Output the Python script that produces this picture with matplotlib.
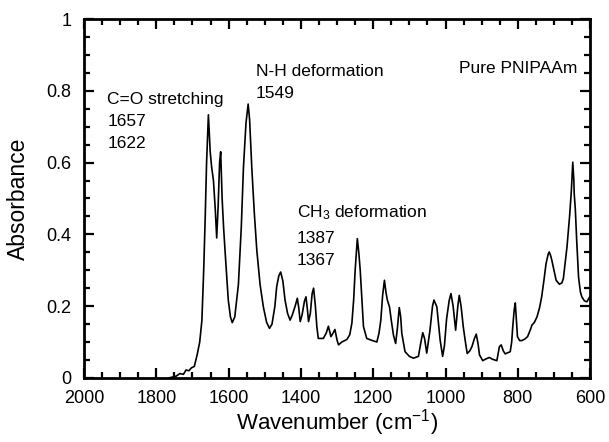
import matplotlib
matplotlib.use("Agg")
import matplotlib.pyplot as plt
from matplotlib.ticker import MultipleLocator

plt.rcParams['font.family'] = ['Liberation Sans', 'DejaVu Sans']
plt.rcParams['mathtext.fontset'] = 'custom'
plt.rcParams['mathtext.rm'] = 'Liberation Sans'
plt.rcParams['mathtext.it'] = 'Liberation Sans:italic'
plt.rcParams['mathtext.bf'] = 'Liberation Sans:bold'

wavenumber = [1765, 1745, 1735, 1725, 1718, 1710, 1703, 1695, 1687, 1680, 1674, 1669, 1665, 1661,
              1656, 1651, 1647, 1642, 1637, 1633, 1629, 1625, 1622, 1618, 1614, 1610, 1601, 1595,
              1590, 1583, 1573, 1565, 1559, 1552, 1546, 1542, 1536, 1529, 1522, 1513, 1504, 1495,
              1487, 1480, 1472, 1467, 1461, 1456, 1450, 1444, 1437, 1430, 1424, 1416, 1410, 1406,
              1402, 1397, 1390, 1386, 1382, 1379, 1374, 1369, 1365, 1360, 1356, 1352, 1338, 1330,
              1324, 1317, 1311, 1306, 1300, 1296, 1287, 1273, 1265, 1259, 1254, 1250, 1244, 1240,
              1236, 1231, 1227, 1218, 1205, 1190, 1184, 1179, 1174, 1169, 1165, 1161, 1155, 1150,
              1144, 1138, 1133, 1128, 1124, 1121, 1112, 1100, 1089, 1075, 1068, 1063, 1058, 1052,
              1043, 1036, 1032, 1024, 1015, 1008, 1003, 997, 990, 985, 979, 972, 966, 962, 957,
              951, 945, 940, 933, 927, 920, 915, 910, 906, 897, 890, 879, 870, 858, 851, 846, 840,
              835, 821, 817, 814, 810, 807, 804, 801, 795, 789, 781, 773, 765, 761, 754, 747, 740,
              734, 728, 722, 716, 713, 709, 706, 700, 694, 685, 678, 674, 668, 664, 657, 652, 648,
              645, 644, 641, 637, 632, 627, 623, 616, 609, 601]
absorbance = [0.0, 0.005, 0.012, 0.01, 0.022, 0.02, 0.028, 0.032, 0.065, 0.1, 0.16, 0.3, 0.44, 0.6,
              0.733, 0.63, 0.587, 0.55, 0.47, 0.39, 0.48, 0.6, 0.63, 0.5, 0.42, 0.355, 0.217, 0.17,
              0.154, 0.17, 0.26, 0.42, 0.587, 0.71, 0.763, 0.72, 0.587, 0.46, 0.355, 0.26, 0.198, 0.155,
              0.138, 0.15, 0.2, 0.255, 0.285, 0.295, 0.27, 0.217, 0.18, 0.161, 0.175, 0.2, 0.222, 0.195,
              0.157, 0.175, 0.215, 0.226, 0.19, 0.157, 0.18, 0.235, 0.25, 0.2, 0.143, 0.11, 0.11, 0.125,
              0.144, 0.115, 0.125, 0.135, 0.105, 0.092, 0.1, 0.107, 0.12, 0.153, 0.22, 0.3, 0.388, 0.35,
              0.3, 0.21, 0.143, 0.11, 0.105, 0.1, 0.125, 0.161, 0.23, 0.272, 0.24, 0.217, 0.198, 0.16,
              0.119, 0.096, 0.14, 0.196, 0.17, 0.124, 0.073, 0.06, 0.055, 0.06, 0.1, 0.126, 0.11, 0.069,
              0.133, 0.2, 0.217, 0.198, 0.106, 0.06, 0.09, 0.165, 0.215, 0.235, 0.2, 0.133, 0.2, 0.23, 0.2,
              0.143, 0.1, 0.068, 0.075, 0.087, 0.11, 0.122, 0.095, 0.064, 0.048, 0.052, 0.057, 0.052, 0.048, 0.087, 0.092, 0.075,
              0.067, 0.073, 0.1, 0.143, 0.19, 0.209, 0.16, 0.115, 0.104, 0.104, 0.108, 0.115, 0.135, 0.147, 0.155, 0.17, 0.195,
              0.226, 0.27, 0.318, 0.345, 0.351, 0.34, 0.328, 0.3, 0.272, 0.261, 0.265, 0.277, 0.33, 0.365, 0.448, 0.52, 0.601,
              0.55, 0.513, 0.471, 0.38, 0.281, 0.24, 0.226, 0.215, 0.212, 0.226]

x_ticks = [2000, 1800, 1600, 1400, 1200, 1000, 800, 600]
y_ticks = [0, 0.2, 0.4, 0.6, 0.8, 1]
y_tick_labels = ['0', '0.2', '0.4', '0.6', '0.8', '1']

fig = plt.figure(figsize=(6.09, 4.42), dpi=100)
ax = fig.add_axes([0.138, 0.145, 0.831, 0.812])
ax.plot(wavenumber, absorbance, color='black', linewidth=1.2)

ax.set_xlim(2000, 600)
ax.set_ylim(0, 1)
ax.set_xticks(x_ticks)
ax.set_xticklabels([str(t) for t in x_ticks])
ax.set_yticks(y_ticks)
ax.set_yticklabels(y_tick_labels)
ax.xaxis.set_minor_locator(MultipleLocator(50))
ax.yaxis.set_minor_locator(MultipleLocator(0.05))
ax.tick_params(which='both', direction='in', top=True, right=True, width=1.6, labelsize=13)
ax.tick_params(axis='x', which='both', pad=9)
ax.tick_params(axis='y', which='both', pad=9)
ax.tick_params(which='major', length=7)
ax.tick_params(which='minor', length=4)
for s in ax.spines.values():
    s.set_linewidth(2)

ax.set_xlabel('Wavenumber (cm$^{-1}$)', fontsize=16, labelpad=0)
ax.set_ylabel('Absorbance', fontsize=16.5, labelpad=12)

fs = 12.5
ax.text(1936, 0.775, 'C=O stretching', fontsize=fs, va='center', ha='left')
ax.text(1936, 0.714, '1657', fontsize=fs, va='center', ha='left')
ax.text(1936, 0.653, '1622', fontsize=fs, va='center', ha='left')
ax.text(1524, 0.853, 'N-H deformation', fontsize=fs, va='center', ha='left')
ax.text(1524, 0.792, '1549', fontsize=fs, va='center', ha='left')
ax.text(1411, 0.461, 'CH$_3$ deformation', fontsize=fs, va='center', ha='left')
ax.text(1411, 0.389, '1387', fontsize=fs, va='center', ha='left')
ax.text(1411, 0.328, '1367', fontsize=fs, va='center', ha='left')
ax.text(636, 0.861, 'Pure PNIPAAm', fontsize=fs, va='center', ha='right')

fig.savefig('out.png', dpi=100)
